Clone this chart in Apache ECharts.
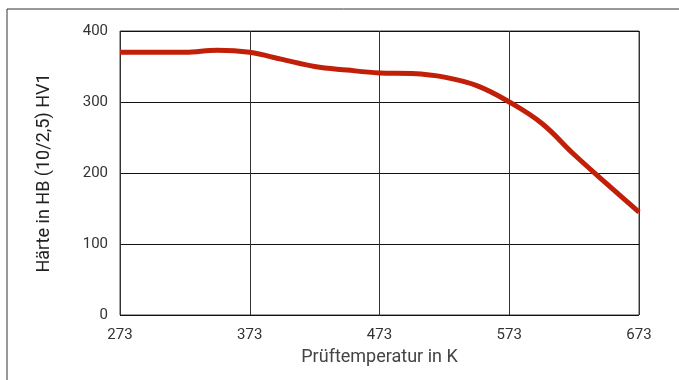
<!DOCTYPE html>
<html><head><meta charset="utf-8">
<script src="https://cdn.jsdelivr.net/npm/echarts@6/dist/echarts.min.js"></script>
<style>html,body{margin:0;padding:0;background:#fff}#c{width:679px;height:380px}</style>
</head><body><div id="c"></div>
<script>
const temperatures = [273, 298, 323, 348, 373, 398, 423, 448, 473, 498, 523, 548, 573, 598, 623, 648, 673];
const hardness = [370, 370, 370, 373, 370, 360, 350, 345, 341, 340, 335, 323, 300, 270, 226, 185, 145];
const xTicks = [273, 373, 473, 573, 673];
const xTitle = 'Prüftemperatur in K';
const yTitle = 'Härte in HB (10/2,5) HV1';

const chart = echarts.init(document.getElementById('c'), null, {renderer: 'canvas'});
const font = 'Roboto, "Liberation Sans", sans-serif';
chart.setOption({
  animation: false,
  grid: {left: 120, right: 40, top: 31, bottom: 65, show: true, borderColor: '#444', borderWidth: 1},
  graphic: [{type: 'rect', shape: {x: 7, y: 9, width: 700, height: 400}, style: {fill: 'none', stroke: '#333', lineWidth: 1}, z: -1}],
  xAxis: {
    type: 'value', min: 273, max: 673, interval: 100,
    name: xTitle, nameLocation: 'middle', nameGap: 33,
    nameTextStyle: {fontFamily: font, fontSize: 18, color: '#444'},
    axisLine: {show: false}, axisTick: {show: false},
    axisLabel: {fontFamily: font, fontSize: 15, color: '#333', margin: 13,
      customValues: xTicks, formatter: v => String(v)},
    splitLine: {show: true, lineStyle: {color: '#333', width: 1}}
  },
  yAxis: {
    type: 'value', min: 0, max: 400, interval: 100,
    name: yTitle, nameLocation: 'middle', nameGap: 67, nameRotate: 90,
    nameTextStyle: {fontFamily: font, fontSize: 18, color: '#222'},
    axisLine: {show: false}, axisTick: {show: false},
    axisLabel: {fontFamily: font, fontSize: 15, color: '#333', margin: 12},
    splitLine: {show: true, lineStyle: {color: '#111', width: 1}}
  },
  series: [{
    type: 'line', smooth: 0.4, symbol: 'none',
    data: temperatures.map((t, i) => [t, hardness[i]]),
    lineStyle: {color: '#c21f08', width: 5}
  }]
});
</script></body></html>
